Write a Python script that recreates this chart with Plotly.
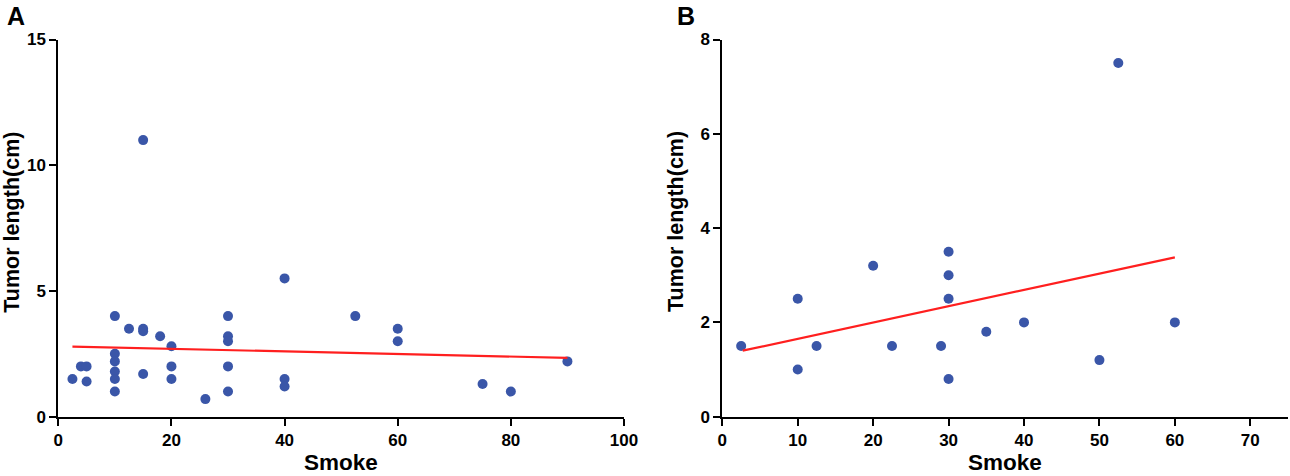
import plotly.graph_objects as go

# Panel A: smoke vs tumor length (all cases)
smoke_a = [2.5, 4, 5, 5, 10, 10, 10, 10, 10, 10, 12.5, 15, 15, 15, 15, 18,
           20, 20, 20, 26, 30, 30, 30, 30, 30, 40, 40, 40, 52.5, 60, 60, 75, 80, 90]
tumor_a = [1.5, 2, 2, 1.4, 4, 2.5, 2.2, 1.8, 1.5, 1.0, 3.5, 3.5, 3.4, 1.7, 11, 3.2,
           2.8, 2, 1.5, 0.7, 4, 3.2, 3.0, 2, 1.0, 5.5, 1.5, 1.2, 4, 3.5, 3.0, 1.3, 1.0, 2.2]
fit_a_x = [2.5, 90]
fit_a_y = [2.79, 2.34]

# Panel B: subgroup
smoke_b = [2.5, 10, 10, 12.5, 20, 22.5, 29, 30, 30, 30, 30, 35, 40, 50, 52.5, 60]
tumor_b = [1.5, 2.5, 1.0, 1.5, 3.2, 1.5, 1.5, 3.5, 3.0, 2.5, 0.8, 1.8, 2.0, 1.2, 7.5, 2.0]
fit_b_x = [2.7, 60]
fit_b_y = [1.4, 3.38]

W, H = 1290, 476
dot = "#3a56a8"
red = "#ff1f1f"
font = "Liberation Sans"


def px_x(p):
    return p / W


def px_y(p):
    return 1 - p / H


fig = go.Figure()
fig.add_trace(go.Scatter(x=smoke_a, y=tumor_a, mode="markers",
                         marker=dict(color=dot, size=10), xaxis="x", yaxis="y"))
fig.add_trace(go.Scatter(x=fit_a_x, y=fit_a_y, mode="lines",
                         line=dict(color=red, width=2.2), xaxis="x", yaxis="y"))
fig.add_trace(go.Scatter(x=smoke_b, y=tumor_b, mode="markers",
                         marker=dict(color=dot, size=10), xaxis="x2", yaxis="y2"))
fig.add_trace(go.Scatter(x=fit_b_x, y=fit_b_y, mode="lines",
                         line=dict(color=red, width=2.2), xaxis="x2", yaxis="y2"))

axis_style = dict(showline=True, linecolor="black", linewidth=2, showgrid=False,
                  zeroline=False, ticks="outside", ticklen=7, tickwidth=2,
                  tickcolor="black",
                  tickfont=dict(family=font, size=17, color="black", weight="bold"))

ydom = [px_y(416.7), px_y(39.5)]
fig.update_layout(
    width=W, height=H, showlegend=False,
    plot_bgcolor="white", paper_bgcolor="white",
    margin=dict(l=0, r=0, t=0, b=0, autoexpand=False),
    xaxis=dict(domain=[px_x(58.3), px_x(624)], range=[0, 100], dtick=20,
               anchor="y", **axis_style),
    yaxis=dict(domain=ydom, range=[0, 15], dtick=5, anchor="x", **axis_style),
    xaxis2=dict(domain=[px_x(722.3), px_x(1288)], range=[0, 75], dtick=10,
                anchor="y2", **axis_style),
    yaxis2=dict(domain=ydom, range=[0, 8], dtick=2, anchor="x2", **axis_style),
)

title_font = dict(family=font, color="black", weight="bold")
ann = []
for cx, ylab_x, letter, lx in [(341, 11.7, "A", 5), (1005, 676, "B", 675)]:
    ann.append(dict(text="Smoke", x=px_x(cx), y=px_y(462.5), xref="paper", yref="paper",
                    showarrow=False, xanchor="center", yanchor="middle",
                    font=dict(size=22.5, **title_font)))
    ann.append(dict(text="Tumor length(cm)", x=px_x(ylab_x), y=px_y(222),
                    xref="paper", yref="paper", showarrow=False, textangle=-90,
                    xanchor="center", yanchor="middle",
                    font=dict(size=21.5, **title_font)))
    ann.append(dict(text=letter, x=px_x(lx), y=px_y(16), xref="paper", yref="paper",
                    showarrow=False, xanchor="left", yanchor="middle",
                    font=dict(size=25, **title_font)))
fig.update_layout(annotations=ann)

# drop the browser's default page margin so the figure sits at the window corner
fig.write_html("out.html", config={"displayModeBar": False},
               post_script="document.body.style.margin='0';"
                           "document.body.style.overflow='hidden';")
